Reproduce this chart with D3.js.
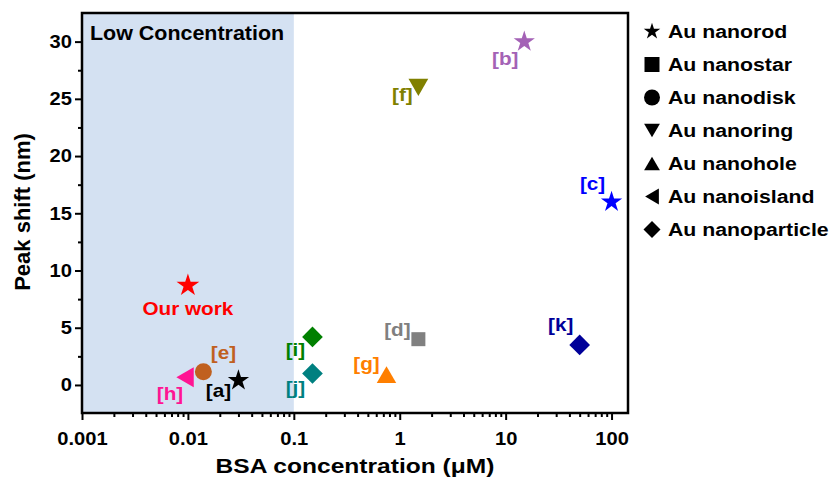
<!DOCTYPE html>
<html>
<head>
<meta charset="utf-8">
<script src="https://cdn.jsdelivr.net/npm/d3@7"></script>
<style>
  body { margin: 0; background: #fff; }
  svg text { font-family: "Liberation Sans", Arial, sans-serif; font-weight: bold; }
</style>
</head>
<body>
<svg id="chart" width="830" height="481"></svg>
<script>
// Data
const refLabels = ["Our work", "[a]", "[b]", "[c]", "[d]", "[e]", "[f]", "[g]", "[h]", "[i]", "[j]", "[k]"];
const bsaConc   = [0.01, 0.03, 15, 100, 1.5, 0.014, 1.5, 0.75, 0.0094, 0.15, 0.15, 50];
const peakShift = [8.7, 0.4, 30, 16, 4.0, 1.15, 26, 0.9, 0.67, 4.2, 1.0, 3.5];
const morphology = ["nanorod", "nanorod", "nanorod", "nanorod", "nanostar", "nanodisk",
                    "nanoring", "nanohole", "nanoisland", "nanoparticle", "nanoparticle", "nanoparticle"];

const legendKeys   = ["nanorod", "nanostar", "nanodisk", "nanoring", "nanohole", "nanoisland", "nanoparticle"];
const legendLabels = ["Au nanorod", "Au nanostar", "Au nanodisk", "Au nanoring", "Au nanohole", "Au nanoisland", "Au nanoparticle"];

const xMajorTicks = [0.001, 0.01, 0.1, 1, 10, 100];
const yMajorTicks = [0, 5, 10, 15, 20, 25, 30];

// Styling
const pointColors = ["#ff0000", "#000000", "#a462b6", "#0000ff", "#808080", "#c0601f",
                     "#808000", "#ff7f00", "#ff1493", "#008000", "#008080", "#000099"];
// label offset from the marker (dx, dy to text baseline)
const labelOffsets = [[0, 30], [-20, 17], [-19, 23], [-19, -12], [-21, -3], [20, -13],
                      [-16, 14], [-20, -5], [-15, 23], [-17, 19], [-17, 20], [-19, -14]];

const svg = d3.select("#chart");
const plotLeft = 82, plotTop = 13, plotRight = 628, plotBottom = 413;

const x = d3.scaleLog().domain([0.001, 143]).range([plotLeft, plotRight]);
const y = d3.scaleLinear().domain([-2.45, 32.5]).range([plotBottom, plotTop]);

// custom marker shapes
function triangle(angle) {
    const a = angle * Math.PI / 180;
    return {
        draw(ctx, size) {
            const w = Math.sqrt(size), h = w * 0.866;
            const pts = [[0, -h / 2], [w / 2, h / 2], [-w / 2, h / 2]].map(([px, py]) =>
                [px * Math.cos(a) - py * Math.sin(a), px * Math.sin(a) + py * Math.cos(a)]);
            ctx.moveTo(pts[0][0], pts[0][1]);
            ctx.lineTo(pts[1][0], pts[1][1]);
            ctx.lineTo(pts[2][0], pts[2][1]);
            ctx.closePath();
        }
    };
}
const diamond = {
    draw(ctx, size) {
        const r = Math.sqrt(size) / 2;
        ctx.moveTo(0, -r); ctx.lineTo(r, 0); ctx.lineTo(0, r); ctx.lineTo(-r, 0); ctx.closePath();
    }
};
const symbolTypes = {
    nanorod: d3.symbolStar,
    nanostar: d3.symbolSquare,
    nanodisk: d3.symbolCircle,
    nanoring: triangle(180),
    nanohole: triangle(0),
    nanoisland: triangle(-90),
    nanoparticle: diamond
};
const markerSize = { nanorod: 140, nanostar: 196, nanodisk: 227, nanoring: 390, nanohole: 380, nanoisland: 400, nanoparticle: 428 };
const legendSize = { nanorod: 85, nanostar: 225, nanodisk: 200, nanoring: 250, nanohole: 250, nanoisland: 250, nanoparticle: 290 };

// shaded low concentration region
svg.append("rect")
    .attr("x", x(0.001)).attr("y", plotTop)
    .attr("width", x(0.1) - x(0.001)).attr("height", plotBottom - plotTop)
    .attr("fill", "#d4e1f2");

svg.append("text")
    .attr("transform", `translate(90,40) scale(1.1,1)`)
    .attr("font-size", 19.5)
    .text("Low Concentration");

// points
const points = refLabels.map((label, i) => ({
    label, conc: bsaConc[i], shift: peakShift[i], shape: morphology[i],
    color: pointColors[i], off: labelOffsets[i]
}));

svg.append("g").selectAll("path")
    .data(points)
    .join("path")
    .attr("transform", d => `translate(${x(d.conc)},${y(d.shift)})`)
    .attr("d", d => d3.symbol().type(symbolTypes[d.shape]).size(markerSize[d.shape] * (d.label === "Our work" ? 1.15 : 1))())
    .attr("fill", d => d.color);

svg.append("g").selectAll("text")
    .data(points)
    .join("text")
    .attr("transform", d => `translate(${x(d.conc) + d.off[0]},${y(d.shift) + d.off[1]}) scale(1.15,1)`)
    .attr("text-anchor", "middle")
    .attr("font-size", 18)
    .attr("fill", d => d.color)
    .text(d => d.label);

// frame
svg.append("rect")
    .attr("x", plotLeft).attr("y", plotTop)
    .attr("width", plotRight - plotLeft).attr("height", plotBottom - plotTop)
    .attr("fill", "none").attr("stroke", "#000").attr("stroke-width", 2.5);

// axes
const xMinorTicks = [];
xMajorTicks.forEach(t => { for (let k = 2; k <= 9; k++) if (t * k <= 143) xMinorTicks.push(t * k); });
const yMinorTicks = yMajorTicks.slice(0, -1).map(t => t + 2.5);

function styleAxis(g) {
    g.select(".domain").remove();
    g.selectAll("line").attr("stroke", "#000").attr("stroke-width", 2);
    g.selectAll("text").attr("fill", "#000").attr("font-size", 18).attr("font-family", null);
}

svg.append("g")
    .attr("transform", `translate(0,${plotBottom})`)
    .call(d3.axisBottom(x).tickValues(xMinorTicks).tickSize(4).tickFormat(""))
    .call(styleAxis);

svg.append("g")
    .attr("transform", `translate(0,${plotBottom})`)
    .call(d3.axisBottom(x).tickValues(xMajorTicks).tickSize(7).tickPadding(12).tickFormat(d => String(d)))
    .call(styleAxis)
    .call(g => g.selectAll("text").attr("transform", "scale(1.12,1)"));

svg.append("g")
    .attr("transform", `translate(${plotLeft},0)`)
    .call(d3.axisLeft(y).tickValues(yMinorTicks).tickSize(4).tickFormat(""))
    .call(styleAxis);

svg.append("g")
    .attr("transform", `translate(${plotLeft},0)`)
    .call(d3.axisLeft(y).tickValues(yMajorTicks).tickSize(7).tickPadding(2))
    .call(styleAxis)
    .call(g => g.selectAll("text").attr("transform", "scale(1.12,1)"));

// axis titles
svg.append("text")
    .attr("transform", `translate(355,473) scale(1.17,1)`)
    .attr("text-anchor", "middle")
    .attr("font-size", 21)
    .text("BSA concentration (μM)");

svg.append("text")
    .attr("transform", `translate(30,212) rotate(-90)`)
    .attr("text-anchor", "middle")
    .attr("font-size", 22)
    .text("Peak shift (nm)");

// legend
const legend = svg.append("g").selectAll("g")
    .data(legendKeys)
    .join("g")
    .attr("transform", (d, i) => `translate(652,${38 + 33 * i})`);

legend.append("path")
    .attr("transform", "translate(0,-6.5)")
    .attr("d", d => d3.symbol().type(symbolTypes[d]).size(legendSize[d])())
    .attr("fill", "#000");

legend.append("text")
    .attr("transform", "translate(16,0) scale(1.15,1)")
    .attr("font-size", 18.5)
    .text((d, i) => legendLabels[i]);
</script>
</body>
</html>
